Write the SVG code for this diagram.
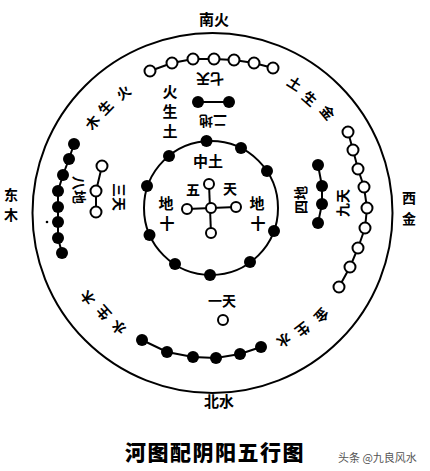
<svg xmlns="http://www.w3.org/2000/svg" width="430" height="471" viewBox="0 0 430 471">
<style>
.ln{stroke:#000;stroke-width:2;fill:none}
.b{fill:#000}
.w{fill:#fff;stroke:#000;stroke-width:2}
.t{font-family:"Noto Sans CJK SC","Noto Sans",sans-serif;font-weight:bold;font-size:14px;text-anchor:middle;dominant-baseline:central;fill:#000}
.d{font-size:15px}
.title{font-family:"Noto Sans CJK SC",sans-serif;font-weight:900;font-size:21px;letter-spacing:1.5px;text-anchor:middle;fill:#000}
.wm{font-family:"Noto Sans CJK SC",sans-serif;font-size:11px;fill:#555}
</style>
<rect width="430" height="471" fill="#fff"/>
<g id="outer-circle"><circle class="ln" cx="212.5" cy="213" r="180"/></g>
<g id="inner-circle"><circle class="ln" cx="211" cy="208" r="67"/></g>
<g id="connectors" class="ln">
<polyline points="150,71 172,63 193,59 214,59 234,60 254,63 273,68"/>
<line x1="198" y1="102" x2="229" y2="102"/>
<polyline points="74,144 69,159 63,175 58,191 58,207 58,222 58,238 62,253"/>
<polyline points="102,166 96,191 96,212"/>
<polyline points="318,165 322,186 322,204 318,223"/>
<polyline points="348,132 353,150 358,169 364,187 367,208 365,228 358,248 350,267 339,287"/>
<polyline points="142,340 167,352 193,357 216,358 240,354 261,347"/>
<line x1="187" y1="209" x2="236" y2="207"/>
<line x1="209" y1="184" x2="211" y2="233"/>
</g>
<g id="seven-heaven">
<circle class="w" cx="150" cy="71" r="5.5"/><circle class="w" cx="172" cy="63" r="5.5"/><circle class="w" cx="193" cy="59" r="5.5"/><circle class="w" cx="214" cy="59" r="5.5"/><circle class="w" cx="234" cy="60" r="5.5"/><circle class="w" cx="254" cy="63" r="5.5"/><circle class="w" cx="273" cy="68" r="5.5"/>
<text class="t" transform="translate(210,80) rotate(180)">七天</text>
</g>
<g id="two-earth">
<circle class="b" cx="198" cy="102" r="6"/><circle class="b" cx="229" cy="102" r="6"/>
<text class="t" transform="translate(213,122) rotate(180)">二地</text>
</g>
<g id="fire-earth">
<text class="t d" x="170" y="90">火</text><text class="t d" x="170" y="110">生</text><text class="t d" x="170" y="130">土</text>
</g>
<g id="eight-earth">
<circle class="b" cx="74" cy="144" r="6"/><circle class="b" cx="69" cy="159" r="6"/><circle class="b" cx="63" cy="175" r="6"/><circle class="b" cx="58" cy="191" r="6"/><circle class="b" cx="58" cy="207" r="6"/><circle class="b" cx="58" cy="222" r="6"/><circle class="b" cx="58" cy="238" r="6"/><circle class="b" cx="62" cy="253" r="6"/>
<circle class="b" cx="47" cy="222" r="1.3"/>
<text class="t" transform="translate(80,190) rotate(90)">八地</text>
</g>
<g id="three-heaven">
<circle class="w" cx="102" cy="166" r="5.5"/><circle class="w" cx="96" cy="191" r="5.5"/><circle class="w" cx="96" cy="212" r="5.5"/>
<text class="t" transform="translate(120,197) rotate(90)">三天</text>
</g>
<g id="four-earth">
<circle class="b" cx="318" cy="165" r="6"/><circle class="b" cx="322" cy="186" r="6"/><circle class="b" cx="322" cy="204" r="6"/><circle class="b" cx="318" cy="223" r="6"/>
<text class="t" transform="translate(300,200) rotate(-90)">四地</text>
</g>
<g id="nine-heaven">
<circle class="w" cx="348" cy="132" r="5.5"/><circle class="w" cx="353" cy="150" r="5.5"/><circle class="w" cx="358" cy="169" r="5.5"/><circle class="w" cx="364" cy="187" r="5.5"/><circle class="w" cx="367" cy="208" r="5.5"/><circle class="w" cx="365" cy="228" r="5.5"/><circle class="w" cx="358" cy="248" r="5.5"/><circle class="w" cx="350" cy="267" r="5.5"/><circle class="w" cx="339" cy="287" r="5.5"/>
<text class="t" transform="translate(342,203) rotate(-90)">九天</text>
</g>
<g id="six-earth">
<circle class="b" cx="142" cy="340" r="6"/><circle class="b" cx="167" cy="352" r="6"/><circle class="b" cx="193" cy="357" r="6"/><circle class="b" cx="216" cy="358" r="6"/><circle class="b" cx="240" cy="354" r="6"/><circle class="b" cx="261" cy="347" r="6"/>
</g>
<g id="one-heaven">
<circle class="w" cx="223" cy="320" r="5"/>
<text class="t" x="222" y="300">一天</text>
</g>
<g id="ten-earth">
<circle class="b" cx="206.5" cy="141" r="6"/><circle class="b" cx="241" cy="148" r="6"/><circle class="b" cx="267" cy="171" r="6"/><circle class="b" cx="274" cy="231" r="6"/><circle class="b" cx="250" cy="262" r="6"/><circle class="b" cx="210" cy="275" r="6"/><circle class="b" cx="175" cy="264" r="6"/><circle class="b" cx="149.5" cy="235" r="6"/><circle class="b" cx="147" cy="186" r="6"/><circle class="b" cx="169" cy="156" r="6"/>
<text class="t d" x="166" y="202">地</text><text class="t d" x="167" y="222">十</text>
<text class="t d" x="257" y="202">地</text><text class="t d" x="258" y="222">十</text>
</g>
<g id="five-center">
<circle class="w" cx="211" cy="208" r="5"/><circle class="w" cx="209" cy="184" r="5"/><circle class="w" cx="187" cy="209" r="5"/><circle class="w" cx="236" cy="207" r="5"/><circle class="w" cx="211" cy="233" r="5"/>
<text class="t d" x="208" y="160">中土</text>
<text class="t" x="193" y="189">五</text><text class="t" x="230" y="188">天</text>
</g>
<g id="wood-fire">
<text class="t" transform="translate(92,122) rotate(-53)">木</text><text class="t" transform="translate(105,107) rotate(-46)">生</text><text class="t" transform="translate(123,92) rotate(-37)">火</text>
</g>
<g id="earth-metal">
<text class="t" transform="translate(295,83) rotate(33)">土</text><text class="t" transform="translate(310,98) rotate(41)">生</text><text class="t" transform="translate(328,112) rotate(50)">金</text>
</g>
<g id="metal-water">
<text class="t" transform="translate(322,316) rotate(133)">金</text><text class="t" transform="translate(303,330) rotate(142)">生</text><text class="t" transform="translate(284,341) rotate(151)">水</text>
</g>
<g id="water-wood">
<text class="t" transform="translate(118,328) rotate(-141)">水</text><text class="t" transform="translate(103,313) rotate(-132)">生</text><text class="t" transform="translate(87,298) rotate(-124)">木</text>
</g>
<g id="directions">
<text class="t d" x="214" y="18">南火</text>
<text class="t d" x="219" y="400">北水</text>
<text class="t" x="11" y="194">东</text><text class="t" x="11" y="214">木</text>
<text class="t" x="409" y="197">西</text><text class="t" x="409" y="218">金</text>
</g>
<g id="title">
<text class="title" x="215" y="460">河图配阴阳五行图</text>
<text class="wm" x="338" y="462">头条 @九良风水</text>
</g>
</svg>
